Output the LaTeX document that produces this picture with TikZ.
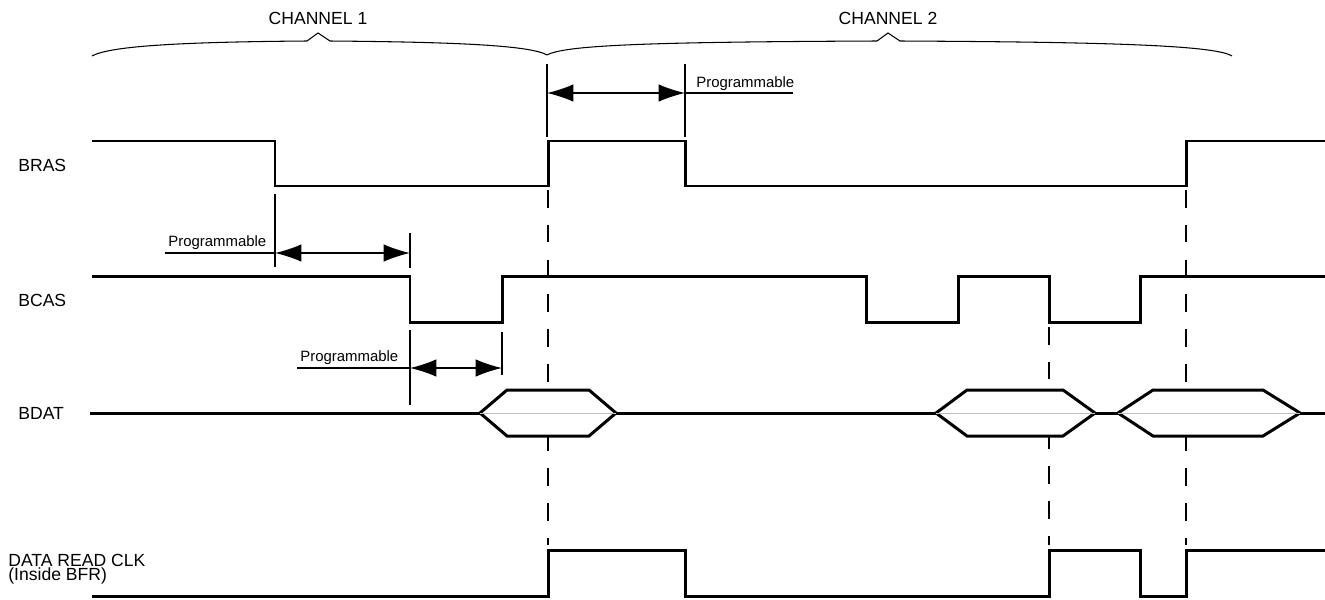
\documentclass[tikz,border=0pt]{standalone}
\usepackage{fontspec}
\setmainfont{Liberation Sans}
\usepackage{tikz}
\usetikzlibrary{arrows.meta}
\tikzset{
  wave/.style={line width=1.7pt, line join=miter},
  guide/.style={line width=0.75pt},
  marker/.style={line width=1.1pt, dash pattern=on 10pt off 9.8pt},
  span/.style={line width=0.75pt, {Latex[length=15pt,width=10pt]}-{Latex[length=15pt,width=10pt]}},
  brace/.style={line width=0.6pt},
  signame/.style={anchor=base west, inner sep=0pt, font=\fontsize{10}{10}\selectfont},
  proglabel/.style={anchor=base west, inner sep=0pt, font=\fontsize{8.5}{8.5}\selectfont},
  chanlabel/.style={anchor=base, inner sep=0pt, font=\fontsize{10}{10}\selectfont},
  bus/.style={wave, fill=white},
}

\begin{document}
\begin{tikzpicture}[x=0.02cm, y=-0.02cm]
    \useasboundingbox (0,0) rectangle (1325,599);

    % channel braces
    \node[chanlabel] (ch1) at (318,24) {CHANNEL 1};
    \node[chanlabel] (ch2) at (888,24) {CHANNEL 2};
    \draw[brace] (92,56) .. controls (110,46) and (180,42) .. (307,41) -- (318,33) -- (330,41)
                 .. controls (450,42) and (530,45) .. (547,55);
    \draw[brace] (547,55) .. controls (565,45) and (650,42) .. (877,41) -- (888,33) -- (900,41)
                 .. controls (1100,42) and (1215,45) .. (1232,56);

    % signal names
    \node[signame] (bras) at (18,171) {BRAS};
    \node[signame] (bcas) at (18,306) {BCAS};
    \node[signame] (bdat) at (18,419) {BDAT};
    \node[signame] (clk) at (8,566) {DATA READ CLK};
    \node[signame] (clkin) at (8,580) {(Inside BFR)};

    % timing markers
    \draw[marker] (548,190) -- (548,545);
    \draw[marker] (1049,327) -- (1049,545);
    \draw[marker] (1186,190) -- (1186,545);

    % BRAS
    \draw[wave] (92,141) -| (275,186) -| (548,141) -| (685,186) -| (1186,141) -- (1325,141);

    % BCAS
    \draw[wave] (92,276) -| (410,322) -| (502,276) -| (866,322) -| (958,276)
                -| (1049,322) -| (1140,276) -- (1325,276);

    % BDAT
    \draw[bus] (480,413) -- (507,390) -- (589,390) -- (616,413) -- (589,436) -- (507,436) -- cycle;
    \draw[bus] (936,413) -- (967,390) -- (1063,390) -- (1095,413) -- (1063,436) -- (967,436) -- cycle;
    \draw[bus] (1118,413) -- (1153,390) -- (1263,390) -- (1300,413) -- (1263,436) -- (1153,436) -- cycle;
    \draw[gray!50, line width=0.5pt] (480,413) -- (616,413) (936,413) -- (1095,413) (1118,413) -- (1300,413);
    \draw[wave] (90,413) -- (480,413) (616,413) -- (936,413) (1095,413) -- (1118,413) (1300,413) -- (1325,413);

    % DATA READ CLK
    \draw[wave] (92,596) -| (548,550) -| (685,596) -| (1049,550) -| (1140,596) -| (1186,550) -- (1325,550);

    % programmable delays
    \coordinate (pa1) at (547,93);
    \coordinate (pa2) at (685,93);
    \draw[guide] (547,64) -- (547,137) (685,64) -- (685,137);
    \draw[span] (pa1) -- (pa2);
    \draw[guide] (pa2) -- (793,93);
    \node[proglabel] (prog1) at (696,87) {Programmable};

    \coordinate (pb1) at (275,253);
    \coordinate (pb2) at (410,253);
    \draw[guide] (275,194) -- (275,267) (410,233) -- (410,268);
    \draw[span] (pb1) -- (pb2);
    \draw[guide] (165,253) -- (pb1);
    \node[proglabel] (prog2) at (168,246) {Programmable};

    \coordinate (pc1) at (410,368);
    \coordinate (pc2) at (502,368);
    \draw[guide] (410,330) -- (410,405) (502,332) -- (502,375);
    \draw[span] (pc1) -- (pc2);
    \draw[guide] (297,368) -- (pc1);
    \node[proglabel] (prog3) at (300,361) {Programmable};
\end{tikzpicture}
\end{document}
